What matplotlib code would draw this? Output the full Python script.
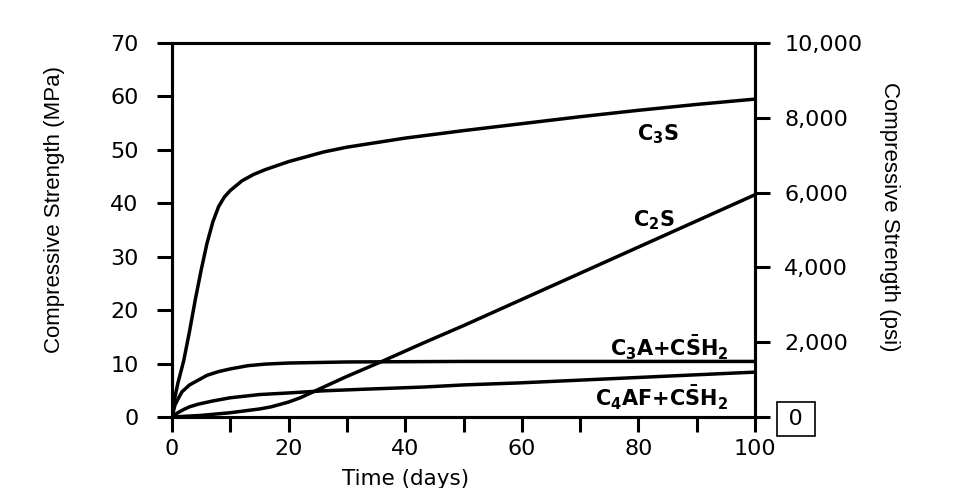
import matplotlib
matplotlib.use("Agg")
from matplotlib import pyplot as plt
from matplotlib.ticker import MultipleLocator, FuncFormatter

plt.rcParams["font.family"] = ["DejaVu Sans"]
plt.rcParams["mathtext.fontset"] = "dejavusans"

# strength development of cement compounds (MPa vs days)
c3s_days = [0, 0.5, 1, 2, 3, 4, 5, 6, 7, 8, 9, 10, 12, 14, 16, 20, 26, 30, 40, 50, 60, 70, 80, 90, 100]
c3s_mpa = [0, 3.7, 6.3, 10.5, 16, 22, 27.5, 32.5, 36.5, 39.4, 41.2, 42.4, 44.2, 45.4, 46.3, 47.8, 49.6, 50.5, 52.2, 53.6, 54.9, 56.2, 57.4, 58.5, 59.5]

c2s_days = [0, 5, 10, 15, 17, 20, 22, 24, 26, 30, 36, 43, 50, 60, 70, 80, 90, 100]
c2s_mpa = [0, 0.3, 0.8, 1.5, 1.9, 2.8, 3.6, 4.6, 5.6, 7.6, 10.4, 13.8, 17.1, 22.0, 26.9, 31.8, 36.7, 41.6]

c3a_days = [0, 0.5, 1, 1.7, 3, 4.5, 6, 8, 10, 13, 16, 20, 30, 50, 100]
c3a_mpa = [0, 2.2, 3.3, 4.7, 6.0, 6.9, 7.8, 8.5, 9.0, 9.6, 9.9, 10.1, 10.3, 10.4, 10.4]

c4af_days = [0, 1, 2, 3, 4.5, 7, 10, 15, 20, 26, 33, 43, 50, 60, 70, 80, 90, 100]
c4af_mpa = [0, 0.8, 1.4, 1.9, 2.4, 3.0, 3.6, 4.2, 4.5, 4.9, 5.2, 5.6, 6.0, 6.4, 6.9, 7.4, 7.9, 8.4]

labels = [r"$\mathbf{C_3S}$", r"$\mathbf{C_2S}$",
          r"$\mathbf{C_3A{+}C\bar{S}H_2}$", r"$\mathbf{C_4AF{+}C\bar{S}H_2}$"]
label_pos = [(83.4, 53.0), (82.7, 36.8), (85.3, 13.0), (83.9, 3.5)]

psi_ticks = [0, 2000, 4000, 6000, 8000, 10000]

fig = plt.figure(figsize=(9.54, 4.88), dpi=100)
ax = fig.add_axes([0.1803, 0.1455, 0.6111, 0.7664])

for d, v in [(c3s_days, c3s_mpa), (c2s_days, c2s_mpa), (c3a_days, c3a_mpa), (c4af_days, c4af_mpa)]:
    ax.plot(d, v, color="black", lw=2.5, solid_capstyle="butt", solid_joinstyle="round")

for lab, (x, y) in zip(labels, label_pos):
    ax.text(x, y, lab, ha="center", va="center", fontsize=15)

ax.set_xlim(0, 100)
ax.set_ylim(0, 70)
ax.xaxis.set_major_locator(MultipleLocator(10))
ax.xaxis.set_major_formatter(FuncFormatter(lambda v, p: f"{int(v)}" if int(v) % 20 == 0 else ""))
ax.yaxis.set_major_locator(MultipleLocator(10))
ax.tick_params(axis="both", direction="out", length=11, width=2.2, labelsize=16, colors="black")
ax.tick_params(axis="y", pad=13)
ax.tick_params(axis="x", pad=5)
for s in ax.spines.values():
    s.set_linewidth(2.2)

ax.set_ylabel("Compressive Strength (MPa)", fontsize=16, family="Liberation Sans")
ax.yaxis.set_label_coords(-0.184, 0.556)
ax.set_xlabel("Time (days)", fontsize=15.5, va="center")
ax.xaxis.set_label_coords(0.401, -0.165)

ax2 = ax.twinx()
ax2.set_ylim(0, 10000)
ax2.set_yticks(psi_ticks)
ax2.set_yticklabels(["\u20090\u2009"] + [f"{t:,}" for t in psi_ticks[1:]])
ax2.tick_params(axis="y", direction="out", length=11, width=2.2, labelsize=16, pad=10)
for s in ax2.spines.values():
    s.set_linewidth(2.2)
ax2.get_yticklabels()[0].set_bbox(dict(boxstyle="square,pad=0.33", fc="white", ec="black", lw=1.2))
ax2.set_ylabel("Compressive Strength (psi)", fontsize=16, family="Liberation Sans",
               rotation=270, va="center")
ax2.yaxis.set_label_coords(1.23, 0.535)

fig.savefig("out.png", dpi=100, facecolor="white")
